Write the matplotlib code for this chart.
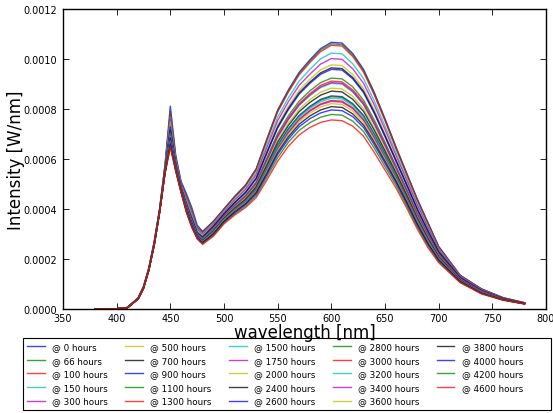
import matplotlib
matplotlib.use("Agg")
import matplotlib.pyplot as plt
from matplotlib.ticker import FormatStrFormatter, MultipleLocator
from matplotlib.patches import Rectangle
import numpy as np

# wavelength grid [nm]
wavelength = [380, 400, 410, 420, 425, 430, 435, 440, 445, 450,
              455, 460, 465, 470, 475, 480, 490, 500, 510, 520,
              530, 540, 550, 560, 570, 580, 590, 600,
              610, 620, 630, 640, 650, 660, 670, 680, 690, 700,
              720, 740, 760, 780]

# intensities in units of 1e-4 W/nm
s0 = [0.00,0.01,0.06,0.45,0.90,1.65,2.70,4.00,5.75,8.10, 6.15,5.10,4.60,4.05,3.35,3.10,3.50,4.00,4.50,4.95, 5.60,6.80,7.95,8.75,9.45,9.95,10.40,10.65, 10.62,10.20,9.57,8.65,7.60,6.50,5.45,4.40,3.45,2.50, 1.35,0.80,0.45,0.25]
s66 = [0.00,0.01,0.06,0.44,0.89,1.64,2.68,3.98,5.71,7.90, 6.07,5.05,4.51,3.95,3.28,3.06,3.49,3.99,4.49,4.93, 5.58,6.77,7.91,8.71,9.40,9.90,10.34,10.59, 10.56,10.14,9.52,8.60,7.56,6.47,5.42,4.38,3.43,2.49, 1.34,0.80,0.45,0.25]
s100 = [0.00,0.01,0.06,0.44,0.89,1.63,2.67,3.97,5.69,7.80, 6.03,5.02,4.47,3.91,3.25,3.04,3.48,3.98,4.47,4.91, 5.55,6.73,7.87,8.66,9.35,9.84,10.28,10.53, 10.50,10.08,9.46,8.55,7.52,6.43,5.39,4.35,3.41,2.47, 1.34,0.79,0.45,0.25]
s150 = [0.00,0.01,0.06,0.44,0.88,1.62,2.66,3.96,5.66,7.67, 5.98,4.98,4.41,3.84,3.21,3.00,3.42,3.92,4.40,4.82, 5.44,6.57,7.66,8.44,9.10,9.57,9.99,10.22, 10.19,9.79,9.20,8.31,7.31,6.27,5.25,4.23,3.31,2.41, 1.31,0.77,0.44,0.24]
s300 = [0.00,0.01,0.06,0.43,0.87,1.62,2.65,3.95,5.64,7.57, 5.94,4.96,4.36,3.79,3.17,2.96,3.37,3.87,4.34,4.76, 5.36,6.45,7.52,8.28,8.93,9.38,9.78,10.00, 9.97,9.59,9.01,8.15,7.17,6.15,5.16,4.15,3.24,2.36, 1.29,0.76,0.43,0.24]
s500 = [0.00,0.01,0.06,0.43,0.87,1.61,2.64,3.94,5.62,7.47, 5.90,4.93,4.32,3.75,3.14,2.93,3.33,3.83,4.28,4.69, 5.27,6.32,7.36,8.10,8.73,9.17,9.55,9.75, 9.72,9.36,8.80,7.95,7.01,6.02,5.04,4.05,3.16,2.31, 1.26,0.74,0.42,0.24]
s700 = [0.00,0.01,0.05,0.42,0.85,1.59,2.61,3.91,5.54,7.13, 5.77,4.84,4.16,3.58,3.03,2.86,3.30,3.80,4.25,4.65, 5.22,6.26,7.27,8.01,8.63,9.06,9.43,9.63, 9.60,9.24,8.69,7.86,6.92,5.96,4.99,4.00,3.12,2.29, 1.25,0.73,0.42,0.23]
s900 = [0.00,0.01,0.06,0.43,0.86,1.60,2.63,3.93,5.58,7.28, 5.83,4.88,4.23,3.65,3.08,2.88,3.29,3.79,4.24,4.64, 5.20,6.22,7.23,7.96,8.58,9.01,9.37,9.57, 9.54,9.19,8.64,7.81,6.88,5.92,4.96,3.98,3.10,2.27, 1.25,0.73,0.42,0.23]
s1100 = [0.00,0.01,0.05,0.42,0.85,1.59,2.61,3.91,5.53,7.08, 5.75,4.82,4.14,3.55,3.01,2.82,3.22,3.72,4.16,4.54, 5.07,6.04,7.01,7.72,8.30,8.71,9.04,9.22, 9.19,8.87,8.34,7.55,6.66,5.74,4.81,3.85,2.99,2.20, 1.21,0.71,0.40,0.23]
s1300 = [0.00,0.01,0.05,0.42,0.85,1.58,2.60,3.90,5.51,6.98, 5.71,4.79,4.09,3.51,2.98,2.79,3.20,3.70,4.13,4.50, 5.03,5.98,6.93,7.63,8.20,8.60,8.93,9.10, 9.07,8.75,8.24,7.45,6.58,5.68,4.75,3.80,2.95,2.18, 1.20,0.70,0.40,0.23]
s1500 = [0.00,0.01,0.05,0.42,0.85,1.58,2.60,3.90,5.51,6.98, 5.71,4.79,4.09,3.51,2.98,2.79,3.18,3.68,4.10,4.47, 4.99,5.93,6.86,7.56,8.13,8.52,8.84,9.01, 8.98,8.66,8.16,7.38,6.51,5.63,4.71,3.76,2.92,2.16, 1.19,0.69,0.40,0.22]
s1750 = [0.00,0.01,0.05,0.41,0.84,1.58,2.59,3.89,5.50,6.93, 5.69,4.78,4.07,3.48,2.96,2.78,3.19,3.69,4.11,4.48, 5.00,5.94,6.88,7.58,8.15,8.55,8.87,9.04, 9.01,8.69,8.18,7.40,6.53,5.64,4.72,3.78,2.93,2.16, 1.19,0.70,0.40,0.22]
s2000 = [0.00,0.01,0.05,0.41,0.84,1.58,2.59,3.89,5.49,6.88, 5.67,4.77,4.05,3.46,2.94,2.75,3.15,3.65,4.06,4.42, 4.92,5.83,6.74,7.42,7.98,8.36,8.66,8.82, 8.79,8.49,8.00,7.23,6.39,5.53,4.62,3.69,2.86,2.12, 1.17,0.68,0.39,0.22]
s2400 = [0.00,0.01,0.05,0.41,0.84,1.57,2.58,3.88,5.47,6.80, 5.64,4.75,4.01,3.42,2.92,2.73,3.12,3.62,4.03,4.38, 4.88,5.76,6.66,7.33,7.88,8.25,8.54,8.70, 8.67,8.37,7.89,7.14,6.31,5.46,4.57,3.64,2.82,2.09, 1.16,0.67,0.39,0.22]
s2600 = [0.00,0.01,0.05,0.41,0.84,1.57,2.59,3.89,5.48,6.85, 5.66,4.76,4.03,3.44,2.93,2.72,3.09,3.59,3.98,4.33, 4.81,5.66,6.54,7.20,7.73,8.09,8.37,8.51, 8.48,8.20,7.73,6.99,6.19,5.36,4.48,3.57,2.76,2.05, 1.14,0.66,0.38,0.22]
s2800 = [0.00,0.01,0.05,0.41,0.83,1.57,2.58,3.88,5.46,6.75, 5.62,4.73,3.99,3.39,2.90,2.71,3.08,3.58,3.98,4.32, 4.80,5.65,6.52,7.18,7.70,8.06,8.34,8.48, 8.45,8.17,7.70,6.97,6.17,5.35,4.47,3.56,2.75,2.05, 1.14,0.66,0.38,0.22]
s3000 = [0.00,0.01,0.05,0.41,0.83,1.57,2.57,3.87,5.45,6.70, 5.60,4.72,3.96,3.37,2.88,2.68,3.05,3.55,3.94,4.28, 4.74,5.56,6.41,7.06,7.58,7.93,8.19,8.33, 8.30,8.03,7.57,6.85,6.06,5.26,4.40,3.50,2.70,2.01, 1.13,0.65,0.38,0.21]
s3200 = [0.00,0.01,0.05,0.41,0.83,1.57,2.57,3.87,5.45,6.70, 5.60,4.72,3.96,3.37,2.88,2.69,3.07,3.57,3.96,4.30, 4.77,5.61,6.47,7.13,7.65,8.01,8.28,8.42, 8.39,8.11,7.65,6.92,6.12,5.31,4.44,3.54,2.73,2.03, 1.13,0.66,0.38,0.21]
s3400 = [0.00,0.01,0.05,0.41,0.83,1.56,2.57,3.87,5.44,6.65, 5.58,4.70,3.94,3.35,2.87,2.67,3.04,3.54,3.93,4.27, 4.73,5.55,6.39,7.04,7.55,7.90,8.16,8.29, 8.26,8.00,7.54,6.83,6.04,5.25,4.39,3.49,2.69,2.01, 1.12,0.65,0.37,0.21]
s3600 = [0.00,0.01,0.05,0.40,0.83,1.56,2.56,3.86,5.43,6.60, 5.56,4.69,3.92,3.32,2.85,2.66,3.03,3.53,3.91,4.24, 4.69,5.50,6.33,6.97,7.48,7.82,8.07,8.20, 8.17,7.91,7.46,6.75,5.98,5.20,4.34,3.45,2.66,1.99, 1.11,0.64,0.37,0.21]
s3800 = [0.00,0.01,0.05,0.40,0.82,1.56,2.56,3.86,5.42,6.55, 5.54,4.68,3.90,3.30,2.83,2.64,3.00,3.50,3.88,4.20, 4.65,5.43,6.25,6.88,7.38,7.71,7.95,8.08, 8.05,7.79,7.35,6.66,5.90,5.13,4.29,3.40,2.62,1.96, 1.10,0.63,0.37,0.21]
s4000 = [0.00,0.01,0.05,0.40,0.83,1.56,2.56,3.86,5.43,6.60, 5.56,4.69,3.92,3.32,2.85,2.64,2.98,3.48,3.85,4.17, 4.60,5.37,6.17,6.79,7.28,7.60,7.83,7.95, 7.92,7.68,7.25,6.56,5.82,5.07,4.23,3.36,2.58,1.94, 1.09,0.63,0.36,0.21]
s4200 = [0.00,0.01,0.05,0.40,0.82,1.55,2.55,3.85,5.41,6.50, 5.52,4.66,3.87,3.27,2.82,2.61,2.94,3.44,3.80,4.11, 4.53,5.27,6.04,6.66,7.13,7.44,7.66,7.77, 7.74,7.50,7.09,6.42,5.69,4.97,4.15,3.28,2.52,1.90, 1.07,0.61,0.36,0.20]
s4600 = [0.00,0.01,0.05,0.40,0.82,1.55,2.55,3.85,5.40,6.45, 5.50,4.65,3.85,3.25,2.80,2.58,2.90,3.40,3.75,4.05, 4.45,5.15,5.90,6.50,6.95,7.25,7.45,7.55, 7.52,7.30,6.90,6.25,5.55,4.85,4.05,3.20,2.45,1.85, 1.05,0.60,0.35,0.20]

hours = [0, 66, 100, 150, 300, 500, 700, 900, 1100, 1300, 1500, 1750,
         2000, 2400, 2600, 2800, 3000, 3200, 3400, 3600, 3800, 4000, 4200, 4600]
series = [s0, s66, s100, s150, s300, s500, s700, s900, s1100, s1300, s1500, s1750,
          s2000, s2400, s2600, s2800, s3000, s3200, s3400, s3600, s3800, s4000, s4200, s4600]
unit = 1e-4  # W/nm

colors = ['b', 'g', 'r', 'c', 'm', 'y', 'k']

W, H = 553, 414
plt.rcParams['font.family'] = ['DejaVu Sans']
fig = plt.figure(figsize=(W / 100, H / 100), dpi=100, facecolor='white')
ax = fig.add_axes([63/W, 1-310/H, (546-63)/W, (310-9.5)/H])

wl = np.array(wavelength)
for i, (h, s) in enumerate(zip(hours, series)):
    ax.plot(wl, np.array(s) * unit, color=colors[i % 7], lw=1.0, alpha=0.75,
            label='@ %d hours' % h)

ax.set_xlim(350, 800)
ax.set_ylim(0, 0.0012)
ax.xaxis.set_major_locator(MultipleLocator(50))
ax.yaxis.set_major_locator(MultipleLocator(0.0002))
ax.yaxis.set_major_formatter(FormatStrFormatter('%.4f'))
ax.tick_params(direction='in', top=True, right=True, length=4, width=0.6,
               labelsize=7, pad=4)
ax.tick_params(axis='x', pad=3)
for sp in ax.spines.values():
    sp.set_linewidth(1.0)
    sp.set_color('black')
ax.set_xlabel('wavelength [nm]', fontsize=12, labelpad=0)
ax.set_ylabel('Intensity [W/nm]', fontsize=12, labelpad=-1)

# legend box frame
fig.patches.append(Rectangle((23/W, 1-411/H), (551-23)/W, (411-339)/H,
                             transform=fig.transFigure, fill=False,
                             edgecolor='black', linewidth=0.8))
leg = fig.legend(loc='upper left', bbox_to_anchor=(24/W, 1-340/H),
                 ncol=5, fontsize=6.3, frameon=False,
                 borderaxespad=0, handlelength=2.0, columnspacing=2.0,
                 labelspacing=0.53, handletextpad=0.85, borderpad=0.35)

fig.savefig('out.png', dpi=100, facecolor='white')
